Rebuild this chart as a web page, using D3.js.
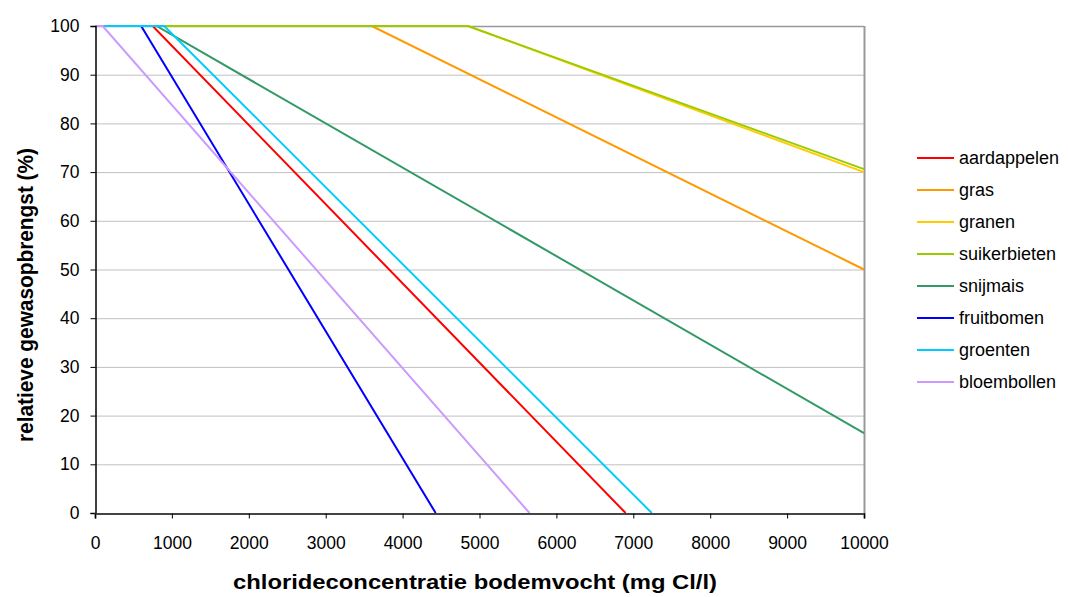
<!DOCTYPE html>
<html>
<head>
<meta charset="utf-8">
<script src="https://cdn.jsdelivr.net/npm/d3@7"></script>
<style>
  body { margin: 0; background: #fff; }
  text { font-family: Arial, "Liberation Sans", sans-serif; }
</style>
</head>
<body>
<div id="canvas"></div>
<script>
"use strict"

// crop names, in legend order
let crops = ["aardappelen", "gras", "granen", "suikerbieten", "snijmais", "fruitbomen", "groenten", "bloembollen"];
let cropColors = ["#ff0000", "#ff9900", "#ffcc00", "#99cc00", "#339966", "#0000ff", "#00ccff", "#cc99ff"];

// chloride (mg Cl/l) at the breakpoints of each curve
let chlorideValues = [
    [0, 750, 6900],
    [0, 3600, 10000],
    [0, 4850, 10000],
    [0, 4850, 10000],
    [0, 800, 10000],
    [0, 600, 4430],
    [0, 900, 7240],
    [0, 100, 5650]
];
// relative yield (%) at those breakpoints
let yieldValues = [
    [100, 100, 0],
    [100, 100, 50],
    [100, 100, 70],
    [100, 100, 70.6],
    [100, 100, 16.4],
    [100, 100, 0],
    [100, 100, 0],
    [100, 100, 0]
];

let xTicks = [0, 1000, 2000, 3000, 4000, 5000, 6000, 7000, 8000, 9000, 10000];
let yTicks = [0, 10, 20, 30, 40, 50, 60, 70, 80, 90, 100];

let width = 1068;
let height = 597;
let plotLeft = 95, plotRight = 864, plotTop = 26, plotBottom = 513;

let drawing = d3.select("#canvas")
    .append("svg")
    .attr("width", width)
    .attr("height", height);

let x = d3.scaleLinear().domain([0, 10000]).range([plotLeft, plotRight]);
let y = d3.scaleLinear().domain([0, 100]).range([plotBottom, plotTop]);

// gridlines
drawing.append("g")
    .selectAll("line")
    .data(yTicks.filter(d => d > 0))
    .join("line")
    .attr("x1", plotLeft)
    .attr("x2", plotRight)
    .attr("y1", d => y(d) + 0.5)
    .attr("y2", d => y(d) + 0.5)
    .attr("stroke", d => d == 100 ? "#999" : "#c0c0c0")
    .attr("stroke-width", d => d == 100 ? 1.5 : 1);

// right border
drawing.append("line")
    .attr("x1", plotRight + 0.5)
    .attr("x2", plotRight + 0.5)
    .attr("y1", plotTop)
    .attr("y2", plotBottom)
    .attr("stroke", "#999")
    .attr("stroke-width", 2);

// lines
let line = d3.line()
    .x(d => x(d[0]))
    .y(d => y(d[1]));

crops.forEach(function (crop, i) {
    let points = chlorideValues[i].map((c, j) => [c, yieldValues[i][j]]);
    drawing.append("path")
        .attr("d", line(points))
        .attr("fill", "none")
        .attr("stroke", cropColors[i])
        .attr("stroke-width", 2);
});

// axes
let yAxis = drawing.append("g")
    .attr("transform", "translate(" + (plotLeft + 0.5) + ",0)")
    .call(d3.axisLeft(y).tickValues(yTicks).tickSize(5).tickPadding(11));
yAxis.select(".domain").attr("stroke", "#000").attr("stroke-width", 1.5);
yAxis.selectAll("text").attr("font-size", 17.5).attr("fill", "#000");

let xAxis = drawing.append("g")
    .attr("transform", "translate(0," + (plotBottom + 0.5) + ")")
    .call(d3.axisBottom(x).tickValues(xTicks).tickFormat(d3.format("d")).tickSize(5).tickPadding(18));
xAxis.select(".domain").attr("stroke", "#444").attr("stroke-width", 2);
xAxis.selectAll("text").attr("font-size", 17.5).attr("fill", "#000");

// axis titles
drawing.append("text")
    .attr("x", 475)
    .attr("y", 589)
    .attr("text-anchor", "middle")
    .attr("font-size", 21)
    .attr("font-weight", "bold")
    .attr("textLength", 484)
    .attr("lengthAdjust", "spacingAndGlyphs")
    .text("chlorideconcentratie bodemvocht (mg Cl/l)");

drawing.append("text")
    .attr("transform", "translate(33,295) rotate(-90)")
    .attr("text-anchor", "middle")
    .attr("font-size", 22.5)
    .attr("font-weight", "bold")
    .attr("textLength", 294)
    .attr("lengthAdjust", "spacingAndGlyphs")
    .text("relatieve gewasopbrengst (%)");

// legend
let legend = drawing.append("g")
    .selectAll("g")
    .data(crops)
    .join("g")
    .attr("transform", (d, i) => "translate(917," + (158 + i * 32) + ")");

legend.append("line")
    .attr("x1", 0)
    .attr("x2", 37)
    .attr("stroke", (d, i) => cropColors[i])
    .attr("stroke-width", 2);

legend.append("text")
    .attr("x", 42)
    .attr("y", 6)
    .attr("font-size", 18)
    .text(d => d);
</script>
</body>
</html>
